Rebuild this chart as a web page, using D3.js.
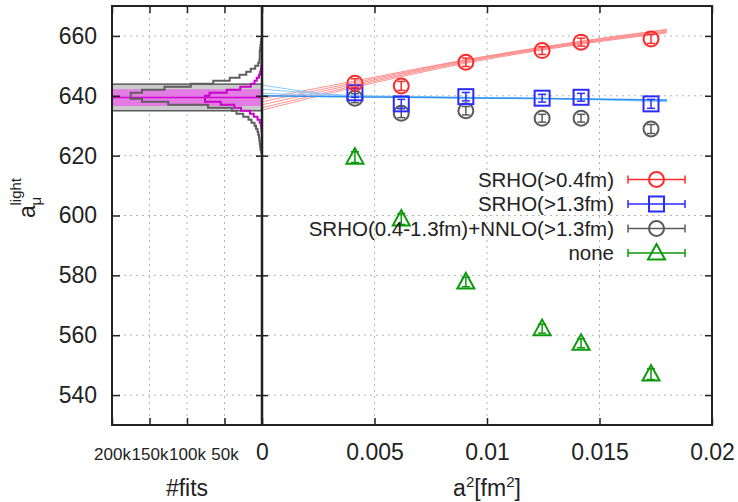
<!DOCTYPE html>
<html>
<head>
<meta charset="utf-8">
<script src="https://cdn.jsdelivr.net/npm/d3@7"></script>
<style>
  body { margin: 0; background: #fff; }
  svg { font-family: "Liberation Sans", Arial, sans-serif; }
</style>
</head>
<body>
<svg id="chart" width="738" height="502"></svg>
<script>
// ---- data ----
const a2 = [0.00413, 0.00619, 0.00906, 0.01245, 0.01418, 0.01729];

const srho04 = [644.2, 643.3, 651.2, 655.1, 657.9, 659.0];
const srho04Err = [1.5, 1.5, 1.4, 1.3, 1.3, 1.5];
const srho13 = [641.0, 637.3, 639.7, 639.2, 639.5, 637.3];
const srho13Err = [1.5, 1.5, 1.4, 1.3, 1.3, 1.5];
const srhoNnlo = [639.2, 634.2, 635.0, 632.5, 632.5, 628.9];
const srhoNnloErr = [1.5, 1.5, 1.4, 1.3, 1.3, 1.5];
const noneVals = [619.5, 598.8, 577.8, 562.2, 557.3, 547.0];
const noneErr = [1.8, 1.8, 1.6, 1.5, 1.5, 1.8];

// continuum fit curves (sampled at fitX)
const fitX = [0, 0.0045, 0.009, 0.0135, 0.018];
const redFits = [
  [635.2, 643.5, 650.8, 656.5, 661.0],
  [636.0, 644.0, 651.2, 656.8, 661.3],
  [637.0, 644.5, 651.5, 657.0, 661.6],
  [638.0, 645.0, 651.8, 657.3, 662.0],
  [639.0, 645.5, 652.0, 657.5, 662.2]
];
const blueFits = [
  [643.6, 639.8, 639.5, 639.0, 638.2],
  [642.2, 640.0, 639.5, 639.0, 638.4],
  [640.8, 639.9, 639.4, 638.9, 638.0]
];
const blueMainFit = [640.0, 639.6, 639.3, 639.0, 638.6];

// histogram of fits (lower bin edge, counts)
const grayEdges = [621, 622, 623, 624, 625, 626, 627, 628, 629, 630, 631, 632, 633, 634, 635, 636, 637, 638, 639,
  640, 641, 642, 643, 644, 645, 646, 647, 648, 649, 650, 651, 652, 653, 654, 655, 656, 657, 658];
const grayCounts = [1000, 2000, 2500, 3000, 3500, 4000, 5000, 6000, 8000, 10000, 14000, 18000, 25000, 34000, 40000, 72000, 125000, 160000, 175000,
  175000, 160000, 130000, 95000, 65000, 43000, 30000, 21000, 15000, 9000, 5000, 3500, 3000, 3000, 3000, 2500, 2000, 1500, 1000];
const magentaEdges = [628, 629, 630, 631, 632, 633, 634, 635, 636, 637, 638, 639, 640, 641, 642, 643, 644, 645, 646, 647, 648, 649, 650];
const magentaCounts = [500, 1000, 1500, 3000, 6000, 11000, 16000, 28000, 37000, 55000, 76000, 76000, 70000, 47000, 29000, 15000, 10000, 7000, 4000, 2500, 1500, 1000, 500];
const grayBand = [635.0, 643.9];
const magentaBand = [636.6, 642.2];
const central = 639.4;

const yTicks = [540, 560, 580, 600, 620, 640, 660];
const xTicks = [0, 0.005, 0.01, 0.015, 0.02];
const histTicks = [50000, 100000, 150000, 200000];

const legendLabels = ["SRHO(>0.4fm)", "SRHO(>1.3fm)", "SRHO(0.4-1.3fm)+NNLO(>1.3fm)", "none"];

// ---- layout ----
const frameL = 112, frameMid = 262, frameR = 712, frameT = 6, frameB = 425;
const svg = d3.select("#chart");

const y = d3.scaleLinear().domain([530, 670]).range([frameB, frameT]);
const x = d3.scaleLinear().domain([0, 0.02]).range([frameMid, frameR]);
const xh = d3.scaleLinear().domain([0, 200000]).range([frameMid, frameL]);

const colors = { red: "#ff2a2a", blue: "#2b2bff", gray: "#5a5a5a", green: "#0a9a0a" };

// grid
const grid = svg.append("g").attr("stroke", "#b4b4b4").attr("stroke-width", 1).attr("stroke-dasharray", "2,4");
grid.selectAll(".gy").data(yTicks).enter().append("line")
  .attr("x1", frameL).attr("x2", frameR).attr("y1", d => y(d)).attr("y2", d => y(d));
grid.selectAll(".gx").data(xTicks.slice(1, -1)).enter().append("line")
  .attr("x1", d => x(d)).attr("x2", d => x(d)).attr("y1", frameT).attr("y2", frameB);
grid.selectAll(".gh").data(histTicks.slice(0, -1)).enter().append("line")
  .attr("x1", d => xh(d)).attr("x2", d => xh(d)).attr("y1", frameT).attr("y2", frameB);

// bands in histogram panel
svg.append("rect").attr("x", frameL).attr("width", frameMid - frameL)
  .attr("y", y(grayBand[1])).attr("height", y(grayBand[0]) - y(grayBand[1]))
  .attr("fill", "#cbcbcb").attr("stroke", "#5a5a5a").attr("stroke-width", 1.5);
svg.append("rect").attr("x", frameL).attr("width", frameMid - frameL)
  .attr("y", y(magentaBand[1])).attr("height", y(magentaBand[0]) - y(magentaBand[1]))
  .attr("fill", "#e37ce3");
svg.append("line").attr("x1", frameL).attr("x2", frameMid).attr("y1", y(central)).attr("y2", y(central))
  .attr("stroke", "#d400d4").attr("stroke-width", 1.5);

// step outline of a histogram
function histPath(edges, counts) {
  const pts = [[xh(0), y(edges[0])]];
  edges.forEach((e, i) => {
    pts.push([xh(counts[i]), y(e)]);
    pts.push([xh(counts[i]), y(e + 1)]);
  });
  pts.push([xh(0), y(edges[edges.length - 1] + 1)]);
  return d3.line()(pts);
}
svg.append("path").attr("d", histPath(grayEdges, grayCounts))
  .attr("fill", "none").attr("stroke", "#5f5f5f").attr("stroke-width", 2);
svg.append("path").attr("d", histPath(magentaEdges, magentaCounts))
  .attr("fill", "none").attr("stroke", "#cc00cc").attr("stroke-width", 2);

// fit curves
const fitLine = d3.line().x((d, i) => x(fitX[i])).y(d => y(d)).curve(d3.curveMonotoneX);
svg.append("g").selectAll("path").data(redFits).enter().append("path")
  .attr("d", fitLine).attr("fill", "none").attr("stroke", "#ff7f7f").attr("stroke-width", 1).attr("opacity", 0.85);
svg.append("g").selectAll("path").data(blueFits).enter().append("path")
  .attr("d", fitLine).attr("fill", "none").attr("stroke", "#8cc8ff").attr("stroke-width", 1);
svg.append("path").attr("d", fitLine(blueMainFit))
  .attr("fill", "none").attr("stroke", "#2f95f0").attr("stroke-width", 1.5);

// markers
function drawMarker(g, shape, color) {
  if (shape === "circle") {
    g.append("circle").attr("r", 7.5);
  } else if (shape === "square") {
    g.append("rect").attr("x", -7.5).attr("y", -7.5).attr("width", 15).attr("height", 15);
  } else {
    g.append("path").attr("d", "M0,-9L8.5,6.5L-8.5,6.5Z");
  }
  g.selectAll("circle,rect,path").attr("fill", "none").attr("stroke", color).attr("stroke-width", 2);
}

function drawSeries(vals, errs, shape, color) {
  const g = svg.append("g");
  vals.forEach((v, i) => {
    const px = x(a2[i]);
    const y0 = y(v + errs[i]), y1 = y(v - errs[i]);
    const eb = g.append("g").attr("stroke", color).attr("stroke-width", 1.5);
    eb.append("line").attr("x1", px).attr("x2", px).attr("y1", y0).attr("y2", y1);
    eb.append("line").attr("x1", px - 4).attr("x2", px + 4).attr("y1", y0).attr("y2", y0);
    eb.append("line").attr("x1", px - 4).attr("x2", px + 4).attr("y1", y1).attr("y2", y1);
    drawMarker(g.append("g").attr("transform", `translate(${px},${y(v)})`), shape, color);
  });
}
drawSeries(noneVals, noneErr, "triangle", colors.green);
drawSeries(srhoNnlo, srhoNnloErr, "circle", colors.gray);
drawSeries(srho13, srho13Err, "square", colors.blue);
drawSeries(srho04, srho04Err, "circle", colors.red);

// legend
const legendShapes = ["circle", "square", "circle", "triangle"];
const legendColors = [colors.red, colors.blue, colors.gray, colors.green];
const legend = svg.append("g");
legendLabels.forEach((lab, i) => {
  const ly = 179.5 + i * 24.5;
  legend.append("text").attr("x", 614).attr("y", ly + 7).attr("text-anchor", "end")
    .attr("font-size", 20.5).attr("fill", "#222").text(lab);
  const s = legend.append("g").attr("stroke", legendColors[i]).attr("stroke-width", 1.5);
  s.append("line").attr("x1", 628).attr("x2", 685).attr("y1", ly).attr("y2", ly);
  s.append("line").attr("x1", 628).attr("x2", 628).attr("y1", ly - 4).attr("y2", ly + 4);
  s.append("line").attr("x1", 685).attr("x2", 685).attr("y1", ly - 4).attr("y2", ly + 4);
  drawMarker(legend.append("g").attr("transform", `translate(656.5,${ly})`), legendShapes[i], legendColors[i]);
});

// axes
function styleAxis(g, fontSize) {
  g.select(".domain").remove();
  g.selectAll(".tick line").attr("stroke", "#222").attr("stroke-width", 1.5);
  g.selectAll(".tick text").attr("fill", "#222").attr("font-size", fontSize)
    .attr("font-family", "Liberation Sans, Arial, sans-serif");
}
styleAxis(svg.append("g").attr("transform", `translate(${frameL},0)`)
  .call(d3.axisLeft(y).tickValues(yTicks).tickSizeInner(-8).tickSizeOuter(0).tickPadding(15)), 23);
styleAxis(svg.append("g").attr("transform", `translate(${frameR},0)`)
  .call(d3.axisRight(y).tickValues(yTicks).tickSizeInner(-7).tickSizeOuter(0).tickFormat("")), 23);
styleAxis(svg.append("g").attr("transform", `translate(${frameMid},0)`)
  .call(d3.axisLeft(y).tickValues(yTicks).tickSizeInner(6).tickSizeOuter(0).tickFormat("")), 23);
styleAxis(svg.append("g").attr("transform", `translate(${frameMid},0)`)
  .call(d3.axisRight(y).tickValues(yTicks).tickSizeInner(6).tickSizeOuter(0).tickFormat("")), 23);
styleAxis(svg.append("g").attr("transform", `translate(0,${frameB})`)
  .call(d3.axisBottom(x).tickValues(xTicks).tickSizeInner(-7).tickSizeOuter(0).tickPadding(19).tickFormat(d3.format("~g"))), 23);
styleAxis(svg.append("g").attr("transform", `translate(0,${frameT})`)
  .call(d3.axisTop(x).tickValues(xTicks).tickSizeInner(-7).tickSizeOuter(0).tickFormat("")), 23);
styleAxis(svg.append("g").attr("transform", `translate(0,${frameB})`)
  .call(d3.axisBottom(xh).tickValues(histTicks).tickSizeInner(-7).tickSizeOuter(0).tickPadding(23)
    .tickFormat(d => (d / 1000) + "k")), 17);
styleAxis(svg.append("g").attr("transform", `translate(0,${frameT})`)
  .call(d3.axisTop(xh).tickValues(histTicks).tickSizeInner(-7).tickSizeOuter(0).tickFormat("")), 17);

// frame
svg.append("rect").attr("x", frameL).attr("y", frameT).attr("width", frameR - frameL).attr("height", frameB - frameT)
  .attr("fill", "none").attr("stroke", "#222").attr("stroke-width", 2);
svg.append("line").attr("x1", frameMid).attr("x2", frameMid).attr("y1", frameT).attr("y2", frameB)
  .attr("stroke", "#222").attr("stroke-width", 2.5);

// axis titles
svg.append("text").attr("x", 187).attr("y", 496).attr("text-anchor", "middle")
  .attr("font-size", 23).attr("fill", "#222").text("#fits");
const xt = svg.append("text").attr("x", 487).attr("y", 496).attr("text-anchor", "middle")
  .attr("font-size", 23).attr("fill", "#222");
xt.append("tspan").text("a");
xt.append("tspan").attr("dy", -9).attr("font-size", 15).text("2");
xt.append("tspan").attr("dy", 9).text("[fm");
xt.append("tspan").attr("dy", -9).attr("font-size", 15).text("2");
xt.append("tspan").attr("dy", 9).text("]");

const yl = svg.append("g").attr("transform", "rotate(-90)").attr("fill", "#222");
yl.append("text").attr("x", -218).attr("y", 35).attr("font-size", 23).text("a");
yl.append("text").attr("x", -205.5).attr("y", 21).attr("font-size", 15).text("light");
yl.append("text").attr("x", -205.5).attr("y", 41).attr("font-size", 15).text("μ");
</script>
</body>
</html>
